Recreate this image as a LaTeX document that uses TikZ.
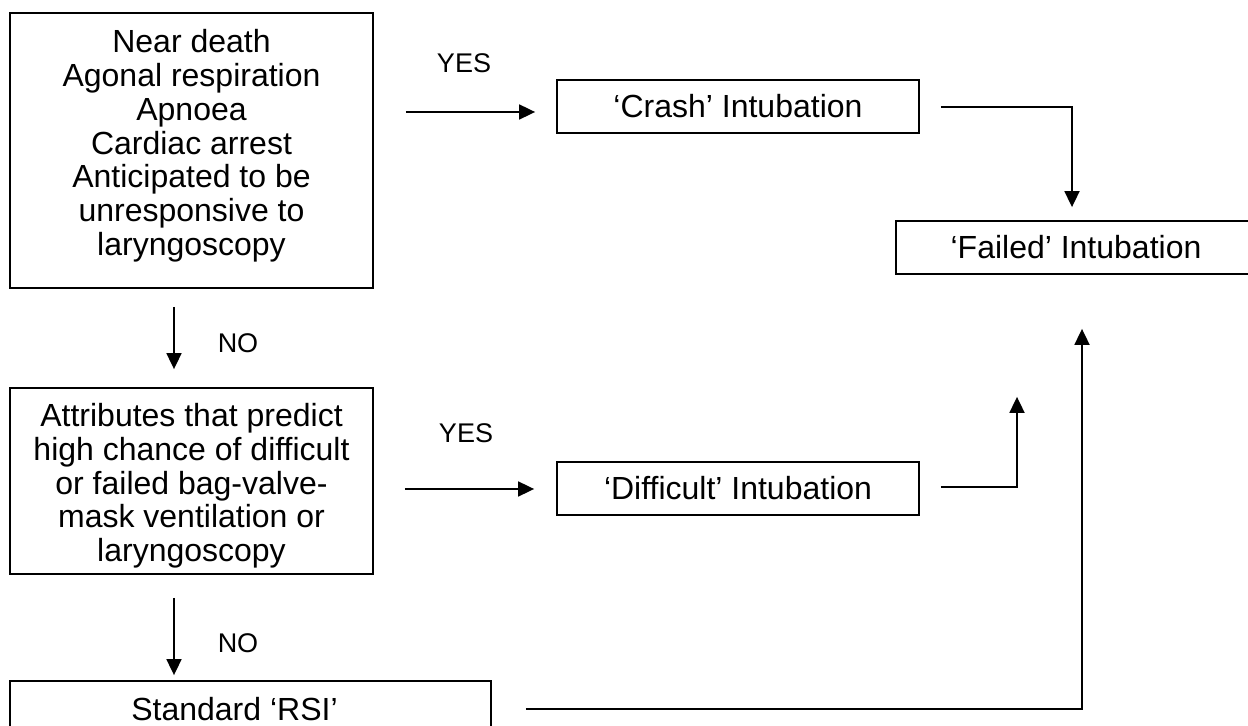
\documentclass[tikz,border=0pt]{standalone}
\usepackage{fontspec}
\setmainfont{Liberation Sans}
\usetikzlibrary{arrows.meta}

\begin{document}
\begin{tikzpicture}[x=0.5pt, y=-0.5pt, line width=0.9pt,
        >={Triangle[length=8pt,width=7.5pt]}]
        \useasboundingbox (0,0) rectangle (1248,726);
        \clip (0,0) rectangle (1248,726);
        \begin{scope}[every node/.style={draw,rectangle,align=center,inner sep=0pt,
                font=\fontsize{16pt}{16.9pt}\selectfont}]
            \node[minimum width=181.5pt, minimum height=137.5pt, text depth=8pt] (q1) at (191.5,150.5)
                {Near death\\Agonal respiration\\Apnoea\\Cardiac arrest\\Anticipated to be\\unresponsive to\\laryngoscopy};
            \node[minimum width=181.5pt, minimum height=93pt, text height=84pt] (q2) at (191.5,481)
                {Attributes that predict\\high chance of difficult\\or failed bag-valve-\\mask ventilation or\\laryngoscopy};
            \node[minimum width=240.5pt, minimum height=28pt] (rsi) at (250.5,709)
                {Standard ‘RSI’\hspace*{16pt}};
            \node[minimum width=181pt, minimum height=26.5pt] (crash) at (738,106.5) {‘Crash’ Intubation};
            \node[minimum width=181pt, minimum height=26.5pt] (diff) at (738,488.5) {‘Difficult’ Intubation};
            \node[minimum width=180pt, minimum height=26.5pt] (fail) at (1076,247.5) {‘Failed’ Intubation};
        \end{scope}
        \begin{scope}[every node/.style={font=\fontsize{13.5pt}{16pt}\selectfont}]
            \node (yes1) at (464,63) {YES};
            \node (yes2) at (466,433) {YES};
            \node (no1) at (238,343) {NO};
            \node (no2) at (238,643) {NO};
        \end{scope}
        % connectors
        \coordinate (a1) at (174,0);
        \coordinate (a2) at (0,112);
        \coordinate (a3) at (0,489);
        \coordinate (k1) at (1072,107);
        \coordinate (k2) at (1017,487);
        \coordinate (k3) at (1082,709);
        \draw[->, shorten <=9pt, shorten >=9pt] (q1.south -| a1) -- (q2.north -| a1);
        \draw[->, shorten <=11.5pt, shorten >=2.5pt] (q2.south -| a1) -- (rsi.north -| a1);
        \draw[->, shorten <=16pt, shorten >=10.5pt] (q1.east |- a2) -- (crash.west |- a2);
        \draw[->, shorten <=15.5pt, shorten >=11pt] (q2.east |- a3) -- (diff.west |- a3);
        \draw[->, shorten <=10.5pt, shorten >=6.5pt] (crash.east |- k1) -- (k1) -- (fail.north -| k1);
        \draw[->, shorten <=10.5pt, shorten >=61pt] (diff.east |- k2) -- (k2) -- (fail.south -| k2);
        \draw[->, shorten <=17pt, shorten >=27pt] (rsi.east |- k3) -- (k3) -- (fail.south -| k3);
    \end{tikzpicture}
\end{document}
